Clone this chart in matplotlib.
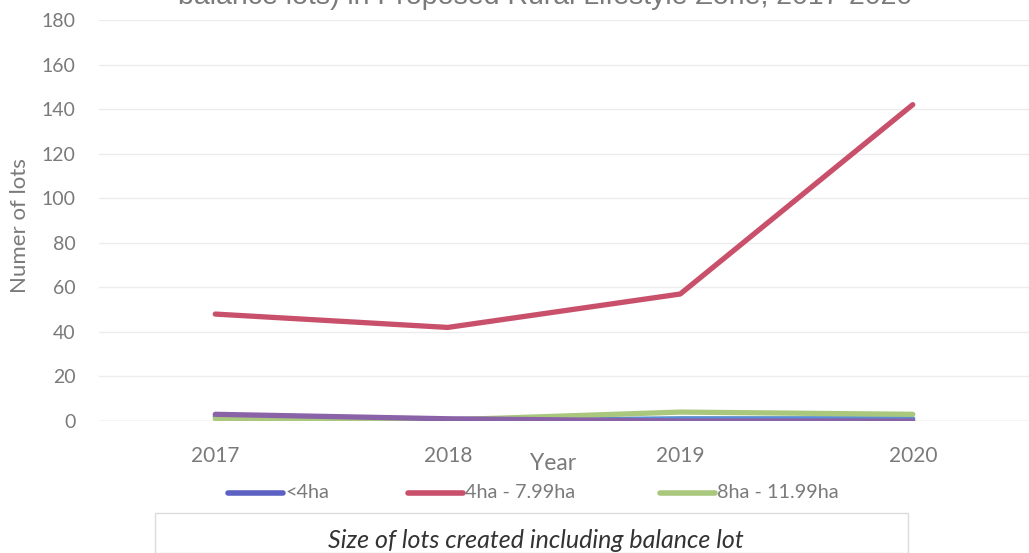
import matplotlib
matplotlib.use("Agg")
import matplotlib.pyplot as plt
from matplotlib.patches import Rectangle

years = ["2017", "2018", "2019", "2020"]
lt4 = [2, 0, 1, 1]
ha4_8 = [48, 42, 57, 142]
ha8_12 = [1, 0.5, 4, 3]
ha12_plus = [3, 1, 0, 0]
yticks = list(range(0, 181, 20))

W, H = 1029, 553
fig = plt.figure(figsize=(W / 100, H / 100), dpi=100)
ax = fig.add_axes([99 / W, 1 - 421 / H, (1029 - 99) / W, (421 - 20) / H])

font = "Lato"
tc = "#7a7a7a"
x = list(range(len(years)))
ax.plot(x, lt4, color="#5a8fd0", lw=3.8, solid_capstyle="round", zorder=3)
ax.plot(x, ha4_8, color="#c9506b", lw=3.8, solid_capstyle="round", zorder=4)
ax.plot(x, ha8_12, color="#a9c87e", lw=3.8, solid_capstyle="round", zorder=3)
ax.plot(x, ha12_plus, color="#8a62a8", lw=3.8, solid_capstyle="round", zorder=3)

ax.set_xlim(-0.5, 3.5)
ax.set_ylim(0, 180)
ax.set_yticks(yticks)
ax.set_yticklabels([str(v) for v in yticks], fontfamily=font, fontsize=14, color=tc)
ax.set_xticks(x)
ax.set_xticklabels(years, fontfamily=font, fontsize=15, color=tc)
ax.tick_params(axis="y", length=0, pad=17)
ax.tick_params(axis="x", length=0, pad=18)
ax.grid(axis="y", color="#ececec", lw=1)
ax.set_axisbelow(True)
for s in ax.spines.values():
    s.set_visible(False)
ax.axhline(0, color="#e0e0e0", lw=1, zorder=1)

fig.text(20 / W, 1 - 226 / H, "Numer of lots", rotation=90, ha="center", va="center",
         fontfamily=font, fontsize=16, color=tc)
fig.text(553 / W, 1 - 463 / H, "Year", ha="center", va="center",
         fontfamily=font, fontsize=16.5, color=tc)
fig.text(545 / W, 1 - 4 / H, "balance lots) in Proposed Rural Lifestyle Zone, 2017-2020",
         ha="center", va="baseline", fontfamily="Liberation Sans", fontsize=20.5, color="#7a7a7a")

# legend
leg = [("<4ha", "#5b62c4", 228), ("4ha - 7.99ha", "#c9506b", 408), ("8ha - 11.99ha", "#a9c87e", 660)]
for lab, col, x0 in leg:
    fig.add_artist(plt.Line2D([x0 / W, (x0 + 55) / W], [1 - 493 / H] * 2, color=col, lw=4,
                              solid_capstyle="round", transform=fig.transFigure))
    fig.text((x0 + 57) / W, 1 - 493 / H, lab, ha="left", va="center", fontfamily=font,
             fontsize=14.3, color=tc)

fig.add_artist(Rectangle((155 / W, 0), (908 - 155) / W, (H - 513) / H, transform=fig.transFigure,
                         fill=False, edgecolor="#dcdcdc", lw=1))
fig.text(328 / W, 1 - 540 / H, "Size of lots created including balance lot", ha="left", va="center",
         fontfamily=font, fontsize=18, style="italic", color="#333333")

fig.savefig("out.png", dpi=100)
